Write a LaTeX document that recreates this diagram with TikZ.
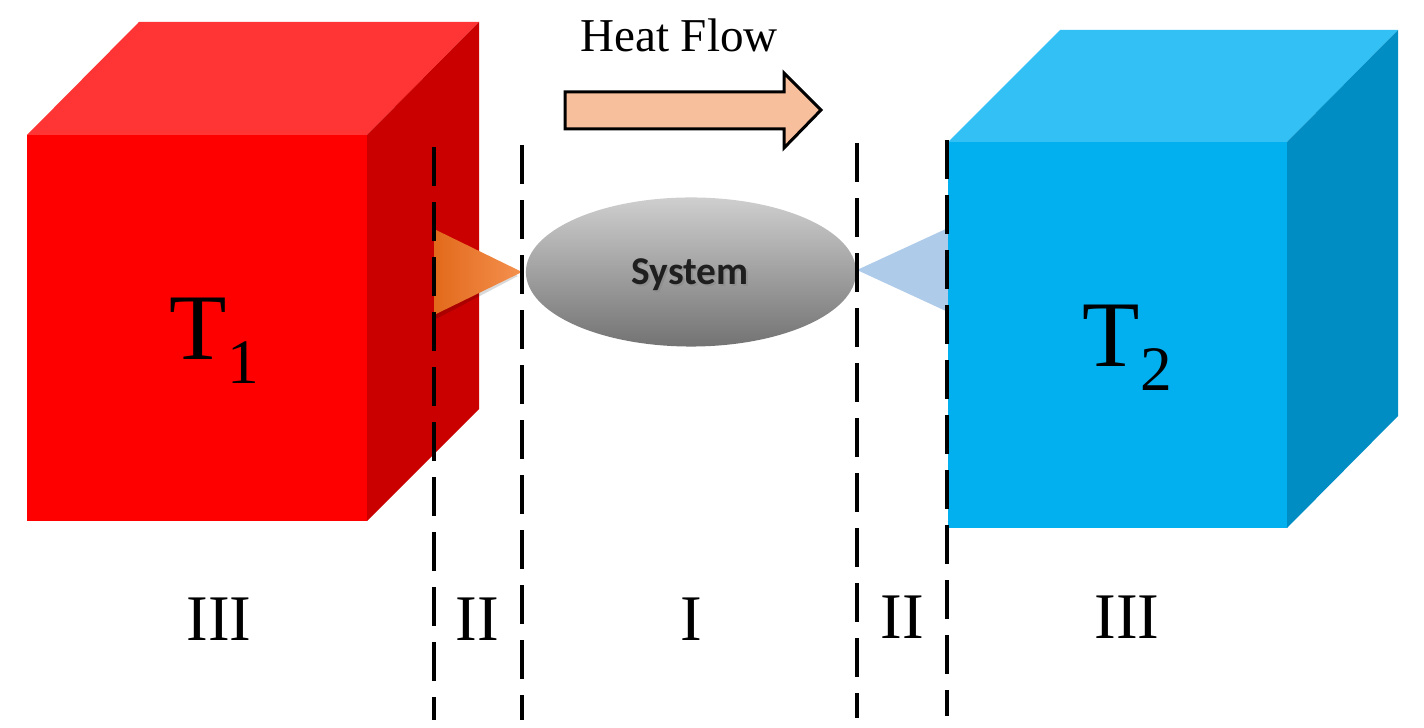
\documentclass[tikz,border=0pt]{standalone}
\usepackage{fontspec}
\setmainfont{Liberation Serif}
\newfontfamily\sysfont{Carlito}
\usetikzlibrary{shapes.geometric}
\definecolor{redfront}{HTML}{FE0000}
\definecolor{redtop}{HTML}{FF3535}
\definecolor{redside}{HTML}{CA0000}
\definecolor{bluefront}{HTML}{02B0F0}
\definecolor{bluetop}{HTML}{33C0F4}
\definecolor{blueside}{HTML}{008DC3}
\definecolor{arrowfill}{HTML}{F7BF9C}
\definecolor{orangeL}{HTML}{E2691B}
\definecolor{orangeR}{HTML}{F4914F}
\definecolor{tribl}{HTML}{AECBEA}
\tikzset{
  divider/.style={line width=1.2pt, dash pattern=on 11.1pt off 4.55pt, black},
  roman/.style={anchor=base, inner sep=0pt, font=\fontsize{18.5pt}{20pt}\selectfont},
  tlabel/.style={anchor=base west, inner sep=0pt, font=\fontsize{26.7pt}{28pt}\selectfont},
  sysnode/.style={ellipse, draw=none, minimum width=3.3cm, minimum height=1.49cm, inner sep=0pt,
    top color=black!19, bottom color=black!55},
  flowarrow/.style={draw=black, line width=0.85pt, fill=arrowfill, line join=miter},
}
\begin{document}
\begin{tikzpicture}[x=0.01cm, y=-0.01cm]
\useasboundingbox (0,0) rectangle (1424,728);
% red cube
\fill[redtop] (27,135) -- (139,22) -- (479,22) -- (367,135) -- cycle;
\fill[redfront] (27,135) rectangle (367,521);
\fill[redside] (367,135) -- (479,22) -- (479,409) -- (367,521) -- cycle;
% blue triangle (behind blue cube)
\fill[tribl] (948,228) -- (948,312) -- (857,270) -- cycle;
% blue cube
\fill[bluefront] (948,142) rectangle (1287,528);
\fill[bluetop] (948,142) -- (1060,30) -- (1398,30) -- (1287,142) -- cycle;
\fill[blueside] (1287,142) -- (1398,30) -- (1398,416) -- (1287,528) -- cycle;
% orange triangle with soft shadow
\fill[black, opacity=0.15] (436,233) -- (436,319) -- (518,276) -- cycle;
\shade[left color=orangeL, right color=orangeR] (434,229) -- (434,315) -- (522,272) -- cycle;
% system ellipse
\node[sysnode] (sys) at (691,272) {};
\node[anchor=base, inner sep=0pt, text=black!45, opacity=0.7, font=\sysfont\bfseries\fontsize{11.2pt}{12pt}\selectfont] (sysshadow) at (692,287) {System};
\node[anchor=base, inner sep=0pt, text=black!88, font=\sysfont\bfseries\fontsize{11.2pt}{12pt}\selectfont] (systext) at (690,285) {System};
% heat flow arrow
\draw[flowarrow] (565,92) -- (784,92) -- (784,73) -- (821,110) -- (784,148) -- (784,129) -- (565,129) -- cycle;
\node[anchor=base, inner sep=0pt, font=\fontsize{13.4pt}{15pt}\selectfont] (heat) at (679,52) {Heat Flow};
% dividers
\coordinate (d1t) at (434,147); \coordinate (d1b) at (434,720);
\coordinate (d2t) at (522,145); \coordinate (d2b) at (522,720);
\coordinate (d3t) at (857,143); \coordinate (d3b) at (857,718);
\coordinate (d4t) at (947,140); \coordinate (d4b) at (947,716);
\draw[divider] (d1t) -- (d1b);
\draw[divider] (d2t) -- (d2b);
\draw[divider] (d3t) -- (d3b);
\draw[divider] (d4t) -- (d4b);
% temperature labels
\node[tlabel] (t1) at (169,360) {T{\fontsize{18pt}{18pt}\selectfont\raisebox{-6.8pt}{1}}};
\node[tlabel] (t2) at (1082,367) {T{\fontsize{18pt}{18pt}\selectfont\raisebox{-6.8pt}{2}}};
% region labels
\node[roman] (r1) at (219,641) {III};
\node[roman] (r2) at (477,641) {II};
\node[roman] (r3) at (691,641) {I};
\node[roman] (r4) at (902,639) {II};
\node[roman] (r5) at (1127,639) {III};
\end{tikzpicture}
\end{document}
